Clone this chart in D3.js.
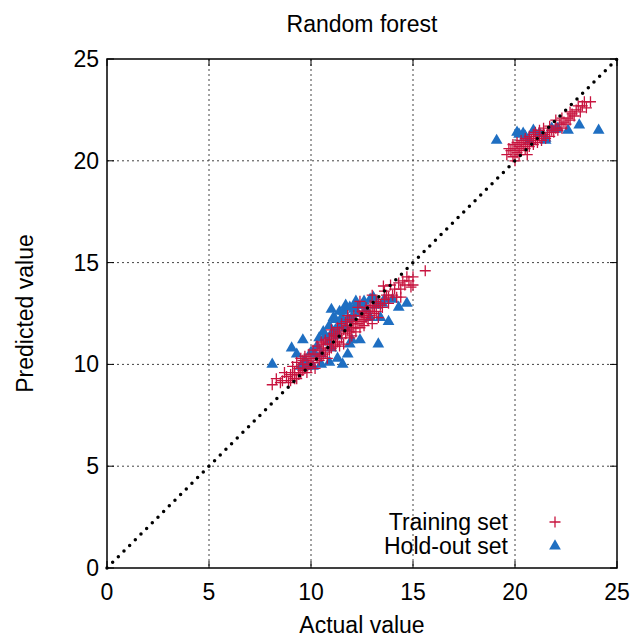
<!DOCTYPE html>
<html lang="en">
<head>
  <meta charset="UTF-8">
  <title>Random forest</title>
  <script src="https://cdn.jsdelivr.net/npm/d3@7"></script>
  <style>
    body { margin: 0; background: #fff; }
    svg { font-family: "Liberation Sans", Arial, sans-serif; }
  </style>
</head>
<body>
<svg id="chart" width="633" height="639"></svg>
<script>
  const title = "Random forest"
  const xLabel = "Actual value"
  const yLabel = "Predicted value"
  const ticks = [0, 5, 10, 15, 20, 25]
  const seriesNames = ["Training set", "Hold-out set"]

  // training set [actual, predicted]
  const training = [
    [8.1,9.0],[8.3,9.3],[8.5,9.1],[8.6,9.2],[8.7,9.6],[8.8,9.4],[8.9,9.1],[9.0,9.5],[9.0,9.2],[9.1,9.9],
    [9.2,9.6],[9.2,9.3],[9.3,9.3],[9.3,10.1],[9.4,9.8],[9.4,9.5],[9.5,9.6],[9.5,10.3],[9.6,10.0],[9.6,9.7],
    [9.7,9.8],[9.7,10.4],[9.8,10.2],[9.8,9.6],[9.9,10.0],[9.9,10.5],[10.0,10.3],[10.0,9.9],[10.1,10.1],[10.1,10.7],
    [10.2,10.5],[10.2,9.8],[10.3,10.3],[10.3,10.9],[10.4,10.7],[10.4,10.2],[10.5,10.4],[10.5,11.1],[10.6,10.8],[10.6,10.5],
    [10.7,10.6],[10.7,11.2],[10.8,11.0],[10.8,10.3],[10.9,10.7],[10.9,11.3],[11.0,11.2],[11.0,11.7],[11.0,10.8],[11.1,11.0],
    [11.1,11.5],[11.2,11.4],[11.2,10.9],[11.3,11.1],[11.3,11.8],[11.4,11.6],[11.4,10.9],[11.5,11.3],[11.5,12.0],[11.6,11.7],
    [11.6,11.0],[11.7,11.5],[11.7,12.1],[11.8,11.9],[11.8,12.4],[11.9,11.6],[11.9,11.3],[11.9,12.2],[12.0,12.1],[12.0,11.4],
    [12.0,11.8],[12.1,11.8],[12.1,12.4],[12.2,12.2],[12.2,11.6],[12.3,12.0],[12.3,12.8],[12.4,12.4],[12.4,13.1],[12.4,11.8],
    [12.5,12.1],[12.5,12.6],[12.6,12.5],[12.6,11.9],[12.7,12.3],[12.7,12.8],[12.8,12.6],[12.8,12.2],[12.9,12.4],[12.9,12.9],
    [13.0,12.8],[13.0,13.4],[13.0,12.0],[13.1,12.5],[13.2,12.6],[13.2,13.1],[13.3,13.0],[13.3,12.3],[13.4,12.9],[13.5,12.8],
    [13.55,13.85],[13.6,13.2],[13.6,13.6],[13.7,13.4],[13.8,13.0],[13.9,13.9],[14.0,13.4],[14.1,13.7],[14.2,13.3],[14.3,14.0],
    [14.4,13.7],[14.4,13.3],[14.5,14.1],[14.6,13.9],[14.8,14.1],[14.9,13.8],[15.0,14.3],[15.0,13.9],[15.6,14.6],
    [10.6,11.0],[11.3,11.4],[11.8,11.7],[12.2,12.0],[12.6,12.2],[13.1,12.8],[13.8,13.3],[14.7,14.3],[9.1,9.5],[9.6,10.2],
    [19.6,20.3],[19.7,20.6],[19.8,20.5],[19.9,20.2],[19.9,20.8],[20.0,20.6],[20.0,20.0],[20.1,20.4],[20.1,20.9],[20.2,20.7],
    [20.2,20.3],[20.3,20.5],[20.3,21.0],[20.4,20.8],[20.5,20.6],[20.5,21.1],[20.6,20.9],[20.6,20.3],[20.7,20.7],[20.7,21.2],
    [20.8,21.0],[20.9,20.8],[20.9,21.3],[21.0,21.1],[21.0,21.4],[21.1,20.9],[21.2,21.2],[21.2,21.5],[21.3,21.0],[21.4,21.3],
    [21.4,21.6],[21.5,21.1],[21.6,21.4],[21.7,21.2],[21.7,21.7],[21.8,21.5],[21.9,21.4],[22.0,21.6],[22.0,22.0],[22.1,21.5],
    [22.2,21.8],[22.3,21.6],[22.3,22.1],[22.4,21.9],[22.5,21.8],[22.6,22.1],[22.7,22.0],[22.7,22.4],[22.8,22.3],[22.9,22.2],
    [23.0,22.5],[23.1,22.7],[23.2,22.4],[23.3,22.7],[23.4,22.9],[23.5,22.6],[23.7,22.9]
  ]

  // hold-out set [actual, predicted]
  const holdout = [
    [8.1,10.0],[9.05,10.8],[9.3,10.5],[9.5,9.9],[9.6,11.2],[9.7,10.2],[9.8,9.9],[10.1,9.9],[10.2,10.5],[10.3,10.9],
    [10.5,10.0],[10.5,10.5],[10.6,11.6],[10.7,11.4],[10.85,11.1],[10.9,10.1],[10.9,11.9],[11.0,10.8],[11.0,12.7],[11.1,12.3],
    [11.2,12.2],[11.2,11.7],[11.3,11.4],[11.3,10.3],[11.4,11.9],[11.4,12.6],[11.5,12.3],[11.55,10.0],[11.6,12.6],[11.7,11.8],
    [11.7,12.9],[11.8,10.5],[11.8,12.2],[11.9,11.0],[11.9,12.8],[12.0,12.3],[12.1,12.7],[12.2,12.9],[12.2,13.1],[12.3,12.5],
    [12.4,11.2],[12.5,12.9],[12.6,13.1],[12.7,12.7],[12.9,12.3],[12.9,13.2],[13.05,13.3],[13.2,12.9],[13.3,11.0],[13.4,12.3],
    [13.5,13.0],[13.6,13.2],[13.8,12.1],[14.0,13.2],[14.3,12.8],[14.7,13.0],[10.4,11.3],[10.0,10.6],[11.0,11.5],[12.0,11.2],
    [19.1,21.0],[20.1,21.4],[20.2,21.3],[20.4,21.35],[20.5,21.2],[20.7,21.0],[20.9,21.5],[21.2,21.35],[21.5,21.0],[21.5,21.1],
    [21.8,21.6],[22.0,21.55],[22.1,21.6],[22.6,21.5],[23.15,21.75],[24.1,21.5]
  ]

  const svg = d3.select("#chart")
  const margin = {top: 59, right: 16, bottom: 71, left: 107}
  const width = 633 - margin.left - margin.right
  const height = 639 - margin.top - margin.bottom
  const red = "#c8143f"
  const blue = "#1f6fc2"
  const fs = 23

  const x = d3.scaleLinear().domain([0, 25]).range([0, width])
  const y = d3.scaleLinear().domain([0, 25]).range([height, 0])

  const g = svg.append("g").attr("transform", `translate(${margin.left},${margin.top})`)

  // grid
  g.append("g").selectAll("line").data(ticks.slice(1, -1)).join("line")
    .attr("x1", d => x(d)).attr("x2", d => x(d)).attr("y1", 0).attr("y2", height)
    .attr("stroke", "#444").attr("stroke-width", 1).attr("stroke-dasharray", "2,3")
  g.append("g").selectAll("line").data(ticks.slice(1, -1)).join("line")
    .attr("y1", d => y(d)).attr("y2", d => y(d)).attr("x1", 0).attr("x2", width)
    .attr("stroke", "#444").attr("stroke-width", 1).attr("stroke-dasharray", "2,3")

  // hold-out markers (triangles)
  const tri = d3.symbol().type(d3.symbolTriangle).size(60)
  g.append("g").selectAll("path").data(holdout).join("path")
    .attr("d", tri)
    .attr("transform", d => `translate(${x(d[0])},${y(d[1])})`)
    .attr("fill", blue)

  // training markers (+)
  const plusPath = "M-5.5,0H5.5M0,-5.5V5.5"
  g.append("g").selectAll("path").data(training).join("path")
    .attr("d", plusPath)
    .attr("transform", d => `translate(${x(d[0])},${y(d[1])})`)
    .attr("stroke", red).attr("stroke-width", 1.3).attr("fill", "none")

  // ideal line, on top
  g.append("line")
    .attr("x1", x(0)).attr("y1", y(0)).attr("x2", x(25)).attr("y2", y(25))
    .attr("stroke", "#000").attr("stroke-width", 3.5)
    .attr("stroke-linecap", "round").attr("stroke-dasharray", "0,8")

  // axes (ticks inward, mirrored)
  const tickLen = 7
  const ax = g.append("g")
  ticks.forEach(t => {
    ax.append("line").attr("x1", x(t)).attr("x2", x(t)).attr("y1", height).attr("y2", height - tickLen).attr("stroke", "#000")
    ax.append("line").attr("x1", x(t)).attr("x2", x(t)).attr("y1", 0).attr("y2", tickLen).attr("stroke", "#000")
    ax.append("line").attr("y1", y(t)).attr("y2", y(t)).attr("x1", 0).attr("x2", tickLen).attr("stroke", "#000")
    ax.append("line").attr("y1", y(t)).attr("y2", y(t)).attr("x1", width).attr("x2", width - tickLen).attr("stroke", "#000")
  })
  g.append("g").attr("font-size", fs).selectAll("text").data(ticks).join("text")
    .attr("x", d => x(d)).attr("y", height + 32).attr("text-anchor", "middle").text(d => d)
  g.append("g").attr("font-size", fs).selectAll("text").data(ticks).join("text")
    .attr("x", -8).attr("y", d => y(d) + 8).attr("text-anchor", "end").text(d => d)

  g.append("rect").attr("width", width).attr("height", height)
    .attr("fill", "none").attr("stroke", "#000").attr("stroke-width", 1.5)

  // labels
  svg.append("text").attr("x", 362).attr("y", 32).attr("text-anchor", "middle")
    .attr("font-size", fs).text(title)
  svg.append("text").attr("x", 362).attr("y", 633).attr("text-anchor", "middle")
    .attr("font-size", fs).text(xLabel)
  svg.append("text").attr("transform", `translate(33,${margin.top + height / 2}) rotate(-90)`)
    .attr("text-anchor", "middle").attr("font-size", fs).text(yLabel)

  // legend
  const leg = g.append("g")
  seriesNames.forEach((name, i) => {
    const ly = 463 + i * 24
    leg.append("text").attr("x", 401).attr("y", ly + 8).attr("text-anchor", "end")
      .attr("font-size", fs).text(name)
    if (i === 0) {
      leg.append("path").attr("d", plusPath)
        .attr("transform", `translate(448,${ly})`).attr("stroke", red).attr("stroke-width", 1.3)
    } else {
      leg.append("path").attr("d", tri).attr("transform", `translate(448,${ly})`).attr("fill", blue)
    }
  })
</script>
</body>
</html>
